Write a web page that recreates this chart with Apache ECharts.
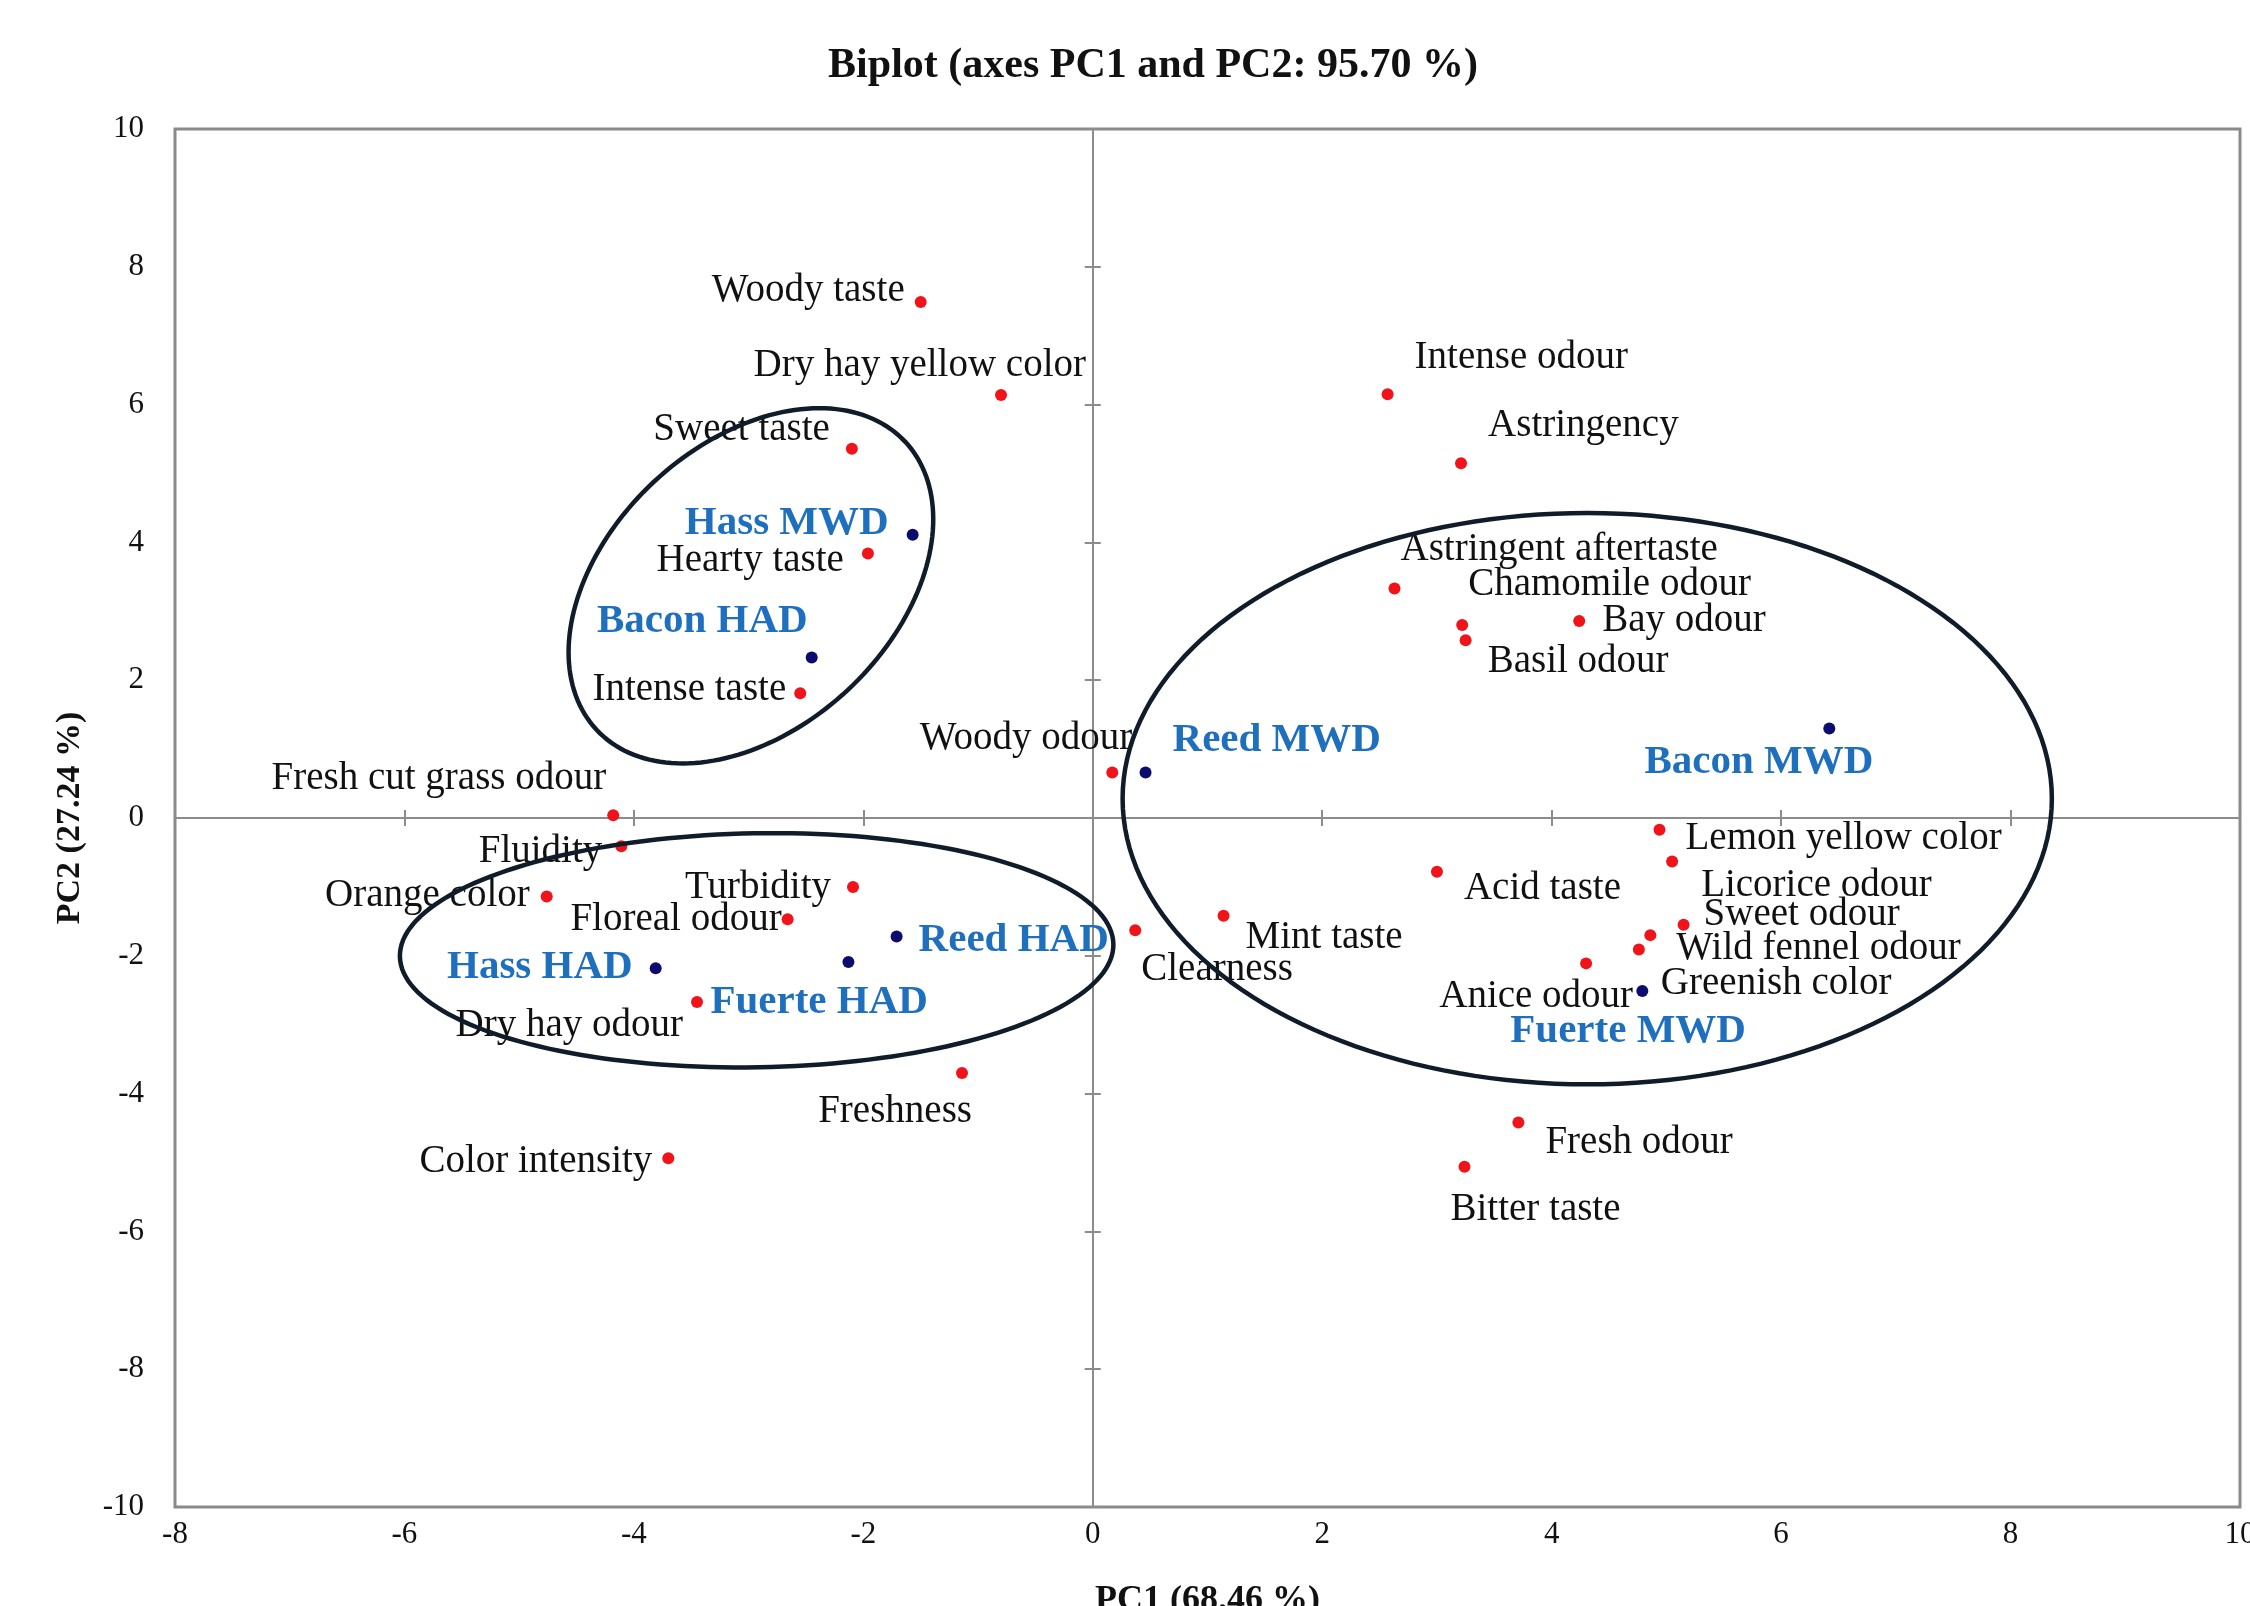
<!DOCTYPE html>
<html>
<head>
<meta charset="utf-8">
<script src="https://cdn.jsdelivr.net/npm/echarts@6/dist/echarts.min.js"></script>
<style>
  html, body { margin: 0; padding: 0; background: #fff; }
  #chart { width: 2250px; height: 1606px; }
</style>
</head>
<body>
<div id="chart"></div>
<script>
  // sensory attributes (red points)
  const varNames = ['Woody taste', 'Dry hay yellow color', 'Sweet taste', 'Hearty taste', 'Intense taste',
    'Fresh cut grass odour', 'Fluidity', 'Orange color', 'Turbidity', 'Floreal odour', 'Dry hay odour',
    'Freshness', 'Color intensity', 'Woody odour', 'Clearness', 'Mint taste', 'Intense odour', 'Astringency',
    'Astringent aftertaste', 'Chamomile odour', 'Basil odour', 'Bay odour', 'Acid taste', 'Lemon yellow color',
    'Licorice odour', 'Sweet odour', 'Wild fennel odour', 'Greenish color', 'Anice odour', 'Fresh odour', 'Bitter taste']
  const varPC1 = [-1.50, -0.80, -2.10, -1.96, -2.55, -4.18, -4.11, -4.76, -2.09, -2.66, -3.45,
    -1.14, -3.70, 0.17, 0.37, 1.14, 2.57, 3.21, 2.63, 3.22, 3.25, 4.24, 3.00, 4.94,
    5.05, 5.15, 4.86, 4.76, 4.30, 3.71, 3.24]
  const varPC2 = [7.49, 6.14, 5.36, 3.84, 1.81, 0.04, -0.41, -1.14, -1.00, -1.47, -2.67,
    -3.70, -4.94, 0.66, -1.63, -1.42, 6.15, 5.15, 3.33, 2.80, 2.58, 2.86, -0.78, -0.17,
    -0.63, -1.55, -1.70, -1.91, -2.11, -4.42, -5.06]

  // samples (blue points)
  const obsNames = ['Hass MWD', 'Bacon HAD', 'Reed MWD', 'Bacon MWD', 'Hass HAD', 'Reed HAD', 'Fuerte HAD', 'Fuerte MWD']
  const obsPC1 = [-1.57, -2.45, 0.46, 6.42, -3.81, -1.71, -2.13, 4.79]
  const obsPC2 = [4.11, 2.33, 0.66, 1.30, -2.18, -1.72, -2.09, -2.51]

  // group ellipses: center PC1, center PC2, semi axes (PC1 units), tilt in degrees
  const groupCenterPC1 = [-2.98, -2.93, 4.31]
  const groupCenterPC2 = [3.37, -1.92, 0.28]
  const groupAxisA = [1.84, 3.11, 4.05]
  const groupAxisB = [1.24, 1.02, 2.49]
  const groupTilt = [43, 1, 0]

  // label placement: text alignment, offset x, offset y (px from the point)
  const labelPlace = {
    'Woody taste': ['right', -16, -11],
    'Dry hay yellow color': ['right', 85, -29],
    'Sweet taste': ['right', -22, -19],
    'Hearty taste': ['right', -24, 7],
    'Intense taste': ['right', -14, -4],
    'Fresh cut grass odour': ['right', -7, -36],
    'Fluidity': ['right', -19, 6],
    'Orange color': ['right', -17, -1],
    'Turbidity': ['right', -22, 1],
    'Floreal odour': ['right', -6, 0],
    'Dry hay odour': ['right', -14, 24],
    'Freshness': ['right', 10, 39],
    'Color intensity': ['right', -16, 3],
    'Woody odour': ['right', 20, -34],
    'Clearness': ['left', 6, 39],
    'Mint taste': ['left', 22, 22],
    'Intense odour': ['left', 27, -37],
    'Astringency': ['left', 27, -37],
    'Astringent aftertaste': ['left', 6, -39],
    'Chamomile odour': ['left', 6, -40],
    'Basil odour': ['left', 22, 22],
    'Bay odour': ['left', 23, 0],
    'Acid taste': ['left', 27, 17],
    'Lemon yellow color': ['left', 26, 9],
    'Licorice odour': ['left', 29, 24],
    'Sweet odour': ['left', 20, -10],
    'Wild fennel odour': ['left', 26, 14],
    'Greenish color': ['left', 22, 34],
    'Anice odour': ['right', 47, 33],
    'Fresh odour': ['left', 27, 20],
    'Bitter taste': ['left', -14, 43],
    'Hass MWD': ['right', -24, -11],
    'Bacon HAD': ['right', -4, -36],
    'Reed MWD': ['left', 27, -32],
    'Bacon MWD': ['right', 44, 34],
    'Hass HAD': ['right', -23, -1],
    'Reed HAD': ['left', 22, 4],
    'Fuerte HAD': ['left', -138, 40],
    'Fuerte MWD': ['left', -132, 40],
  }

  const serif = "'Liberation Serif', 'Times New Roman', serif"

  const pointLabel = (name) => {
    const p = labelPlace[name]
    return {
      position: ['50%', '50%'],
      align: p[0],
      verticalAlign: 'middle',
      offset: [p[1], p[2]],
    }
  }

  const varData = varNames.map((n, i) => ({ name: n, value: [varPC1[i], varPC2[i]], label: pointLabel(n) }))
  const obsData = obsNames.map((n, i) => ({ name: n, value: [obsPC1[i], obsPC2[i]], label: pointLabel(n) }))
  const groupData = groupCenterPC1.map((c, i) => [c, groupCenterPC2[i], groupAxisA[i], groupAxisB[i], groupTilt[i]])

  const renderEllipse = (params, api) => {
    const c = api.coord([api.value(0), api.value(1)])
    const unit = api.size([1, 0])[0]
    const a = api.value(2) * unit
    const b = api.value(3) * unit
    const t = api.value(4) * Math.PI / 180
    const pts = []
    for (let k = 0; k <= 180; k++) {
      const s = k / 180 * Math.PI * 2
      const x = a * Math.cos(s)
      const y = b * Math.sin(s)
      pts.push([c[0] + x * Math.cos(t) + y * Math.sin(t), c[1] - x * Math.sin(t) + y * Math.cos(t)])
    }
    return {
      type: 'polygon',
      shape: { points: pts },
      style: { fill: 'none', stroke: '#101c2a', lineWidth: 4.5 },
    }
  }

  const zeroLine = { color: '#8c8c8c', width: 2 }

  const valueAxis = (extra) => Object.assign({
    type: 'value',
    splitLine: { show: false },
  }, extra)

  const options = {
    animation: false,
    backgroundColor: '#fff',
    title: {
      text: 'Biplot (axes PC1 and PC2: 95.70 %)',
      left: 1148,
      top: 40,
      textAlign: 'center',
      textStyle: { fontFamily: serif, fontSize: 42, fontWeight: 'bold', color: '#111' },
    },
    grid: {
      left: 175,
      right: 10,
      top: 129,
      bottom: 99,
      outerBoundsMode: 'none',
      containLabel: false,
      show: true,
      borderColor: '#8a8a8a',
      borderWidth: 3,
    },
    xAxis: [
      valueAxis({
        min: -8, max: 10, interval: 2, position: 'bottom',
        axisLine: { show: false, onZero: false },
        axisTick: { show: false },
        axisLabel: { fontFamily: serif, fontSize: 31, color: '#111', margin: 12 },
        name: 'PC1 (68.46 %)',
        nameLocation: 'middle',
        nameGap: 76,
        nameTextStyle: { fontFamily: serif, fontSize: 36, fontWeight: 'bold', color: '#111', verticalAlign: 'top' },
      }),
      valueAxis({
        min: -8, max: 10, interval: 2, position: 'bottom',
        axisLine: { show: true, onZero: true, onZeroAxisIndex: 0, lineStyle: zeroLine },
        axisTick: { show: true, inside: true, length: 8, lineStyle: zeroLine },
        axisLabel: { show: false },
      }),
      valueAxis({
        min: -8, max: 10, interval: 2, position: 'bottom',
        axisLine: { show: true, onZero: true, onZeroAxisIndex: 0, lineStyle: zeroLine },
        axisTick: { show: true, inside: false, length: 8, lineStyle: zeroLine },
        axisLabel: { show: false },
      }),
    ],
    yAxis: [
      valueAxis({
        min: -10, max: 10, interval: 2, position: 'left',
        axisLine: { show: false, onZero: false },
        axisTick: { show: false },
        axisLabel: { fontFamily: serif, fontSize: 31, color: '#111', margin: 31 },
        name: 'PC2 (27.24 %)',
        nameLocation: 'middle',
        nameGap: 88,
        nameRotate: 90,
        nameTextStyle: { fontFamily: serif, fontSize: 34, fontWeight: 'bold', color: '#111' },
      }),
      valueAxis({
        min: -10, max: 10, interval: 2, position: 'left',
        axisLine: { show: true, onZero: true, onZeroAxisIndex: 0, lineStyle: zeroLine },
        axisTick: { show: true, inside: true, length: 8, lineStyle: zeroLine },
        axisLabel: { show: false },
      }),
      valueAxis({
        min: -10, max: 10, interval: 2, position: 'left',
        axisLine: { show: true, onZero: true, onZeroAxisIndex: 0, lineStyle: zeroLine },
        axisTick: { show: true, inside: false, length: 8, lineStyle: zeroLine },
        axisLabel: { show: false },
      }),
    ],
    series: [
      {
        type: 'scatter',
        name: 'attributes',
        data: varData,
        symbolSize: 12,
        itemStyle: { color: '#f0141a', opacity: 1 },
        label: { show: true, formatter: '{b}', fontFamily: serif, fontSize: 39, color: '#111' },
        z: 3,
      },
      {
        type: 'scatter',
        name: 'samples',
        data: obsData,
        symbolSize: 12,
        itemStyle: { color: '#0c0c6e', opacity: 1 },
        label: { show: true, formatter: '{b}', fontFamily: serif, fontSize: 41, fontWeight: 'bold', color: '#1f6fbf' },
        z: 4,
      },
      {
        type: 'custom',
        name: 'groups',
        data: groupData,
        renderItem: renderEllipse,
        silent: true,
        clip: false,
        z: 10,
      },
    ],
  }

  const chart = echarts.init(document.getElementById('chart'))
  chart.setOption(options)
  window.addEventListener('resize', function () {
    chart && chart.resize()
  })
</script>
</body>
</html>
